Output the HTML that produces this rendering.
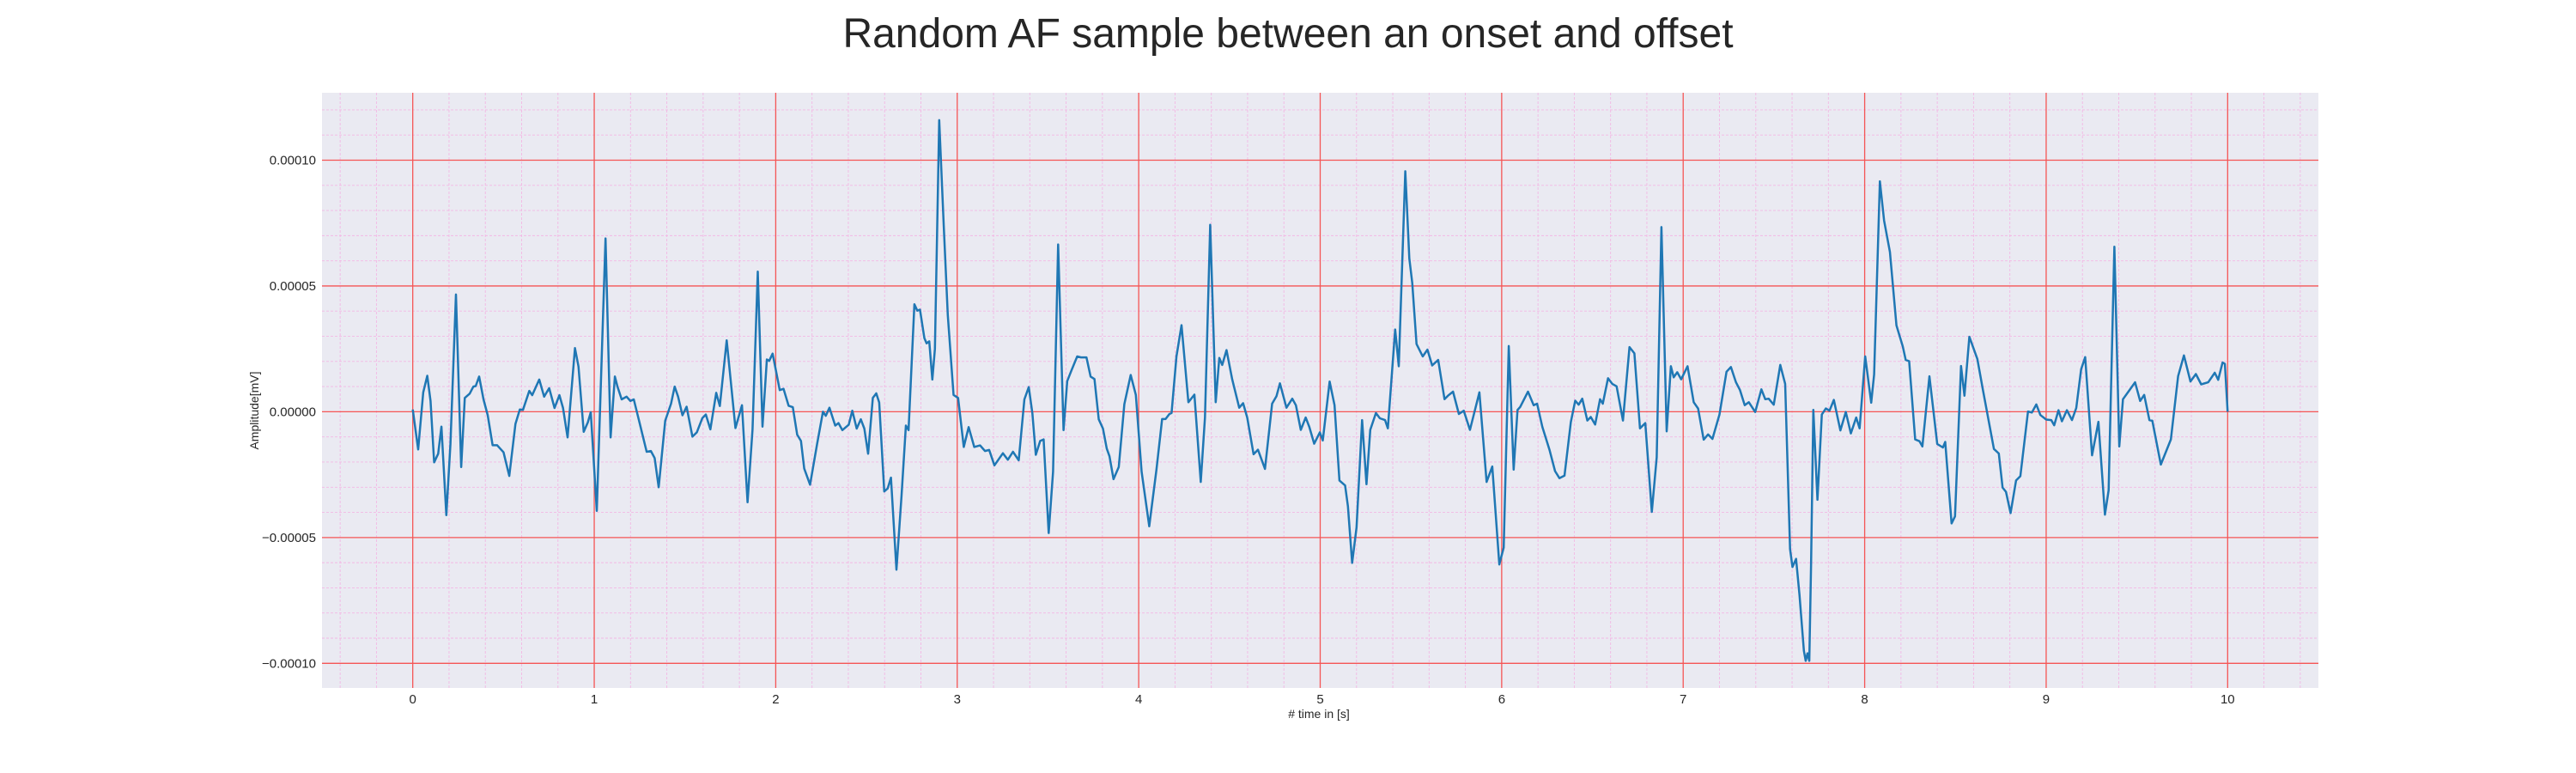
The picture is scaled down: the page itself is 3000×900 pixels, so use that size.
<!DOCTYPE html>
<html><head><meta charset="utf-8"><style>
html,body{margin:0;padding:0;background:#fff;}
svg{display:block;font-family:"Liberation Sans",sans-serif;}
</style></head><body>
<svg id="chart" width="3000" height="900" viewBox="0 0 3000 900" xmlns="http://www.w3.org/2000/svg">
<text x="1500" y="55" font-size="48" text-anchor="middle" fill="#262626">Random AF sample between an onset and offset</text>
<rect x="375" y="108" width="2325" height="693" fill="#eaeaf2"/>
<g id="grid"></g>
<g id="ticks"></g>
<path id="signal" fill="none" stroke="#1f77b4" stroke-width="2.5" stroke-linejoin="round"/>
<text x="1536" y="836" font-size="14" text-anchor="middle" fill="#262626"># time in [s]</text>
<text x="301" y="478" font-size="14" text-anchor="middle" fill="#262626" transform="rotate(-90 301 478)">Amplitude[mV]</text>
</svg>
<script>
// time (s)
const times = [0,0.030,0.058,0.080,0.098,0.118,0.140,0.158,0.185,0.208,0.238,0.267,0.287,0.314,0.334,0.347,0.366,0.390,0.413,0.440,0.465,0.500,0.532,0.566,0.590,0.607,0.642,0.658,0.697,0.724,0.752,0.781,0.808,0.828,0.853,0.894,0.913,0.942,0.965,0.981,1.014,1.062,1.090,1.114,1.128,1.151,1.178,1.199,1.218,1.249,1.289,1.312,1.333,1.355,1.391,1.423,1.443,1.462,1.486,1.509,1.541,1.565,1.596,1.615,1.640,1.672,1.692,1.730,1.778,1.814,1.845,1.872,1.901,1.927,1.951,1.964,1.983,2.022,
2.043,2.071,2.094,2.118,2.139,2.157,2.189,2.228,2.260,2.276,2.296,2.328,2.346,2.367,2.402,2.422,2.446,2.469,2.488,2.509,2.535,2.554,2.570,2.598,2.617,2.635,2.665,2.693,2.717,2.732,2.764,2.780,2.795,2.819,2.831,2.846,2.863,2.877,2.901,2.926,2.948,2.980,3.005,3.036,3.063,3.094,3.126,3.153,3.176,3.205,3.228,3.252,3.279,3.307,3.339,3.370,3.394,3.414,3.433,3.457,3.476,3.504,3.528,3.556,3.586,3.606,3.630,3.661,3.682,3.712,3.735,3.756,3.780,3.803,3.824,3.839,3.861,3.890,3.921,3.956,3.984,4.016,4.058,
4.098,4.129,4.148,4.169,4.181,4.208,4.236,4.274,4.307,4.342,4.365,4.394,4.424,4.444,4.460,4.484,4.515,4.554,4.575,4.598,4.633,4.657,4.696,4.735,4.759,4.778,4.814,4.846,4.866,4.893,4.920,4.940,4.967,4.998,5.014,5.052,5.079,5.106,5.137,5.153,5.176,5.200,5.231,5.255,5.276,5.307,5.329,5.357,5.373,5.413,5.433,5.469,5.491,5.507,5.531,5.565,5.591,5.617,5.650,5.685,5.704,5.732,5.764,5.791,5.825,5.877,5.917,5.948,5.987,6.011,6.039,
6.066,6.087,6.102,6.145,6.176,6.195,6.224,6.263,6.294,6.318,6.346,6.381,6.405,6.424,6.444,6.472,6.491,6.515,6.542,6.557,6.586,6.609,6.633,6.668,6.704,6.731,6.762,6.791,6.827,6.854,6.880,6.909,6.932,6.948,6.967,6.989,7.024,7.058,7.082,7.113,7.137,7.161,7.200,7.239,7.263,7.291,7.313,7.339,7.362,7.397,7.431,7.452,7.471,7.499,7.535,7.562,7.589,7.602,7.622,7.641,7.665,7.675,7.685,7.695,7.705,7.717,7.740,7.764,7.786,7.806,7.830,7.866,7.896,7.924,7.953,7.972,8.003,
8.036,8.052,8.084,8.107,8.139,8.175,8.210,8.226,8.245,8.278,8.302,8.318,8.357,8.400,8.431,8.444,8.479,8.498,8.531,8.550,8.577,8.621,8.652,8.712,8.739,8.760,8.779,8.804,8.834,8.858,8.900,8.921,8.946,8.968,9.000,9.028,9.044,9.068,9.087,9.114,9.142,9.166,9.193,9.215,9.253,9.288,9.324,9.344,9.376,9.403,9.423,9.458,9.490,9.518,9.540,9.569,9.585,9.632,9.687,9.727,9.759,9.795,9.825,9.854,9.893,9.929,9.948,9.972,9.985,10.0];
// amplitude in units of 1e-5 mV
const amps = [0.09,-1.50,0.77,1.43,0.43,-2.01,-1.67,-0.59,-4.11,-1.27,4.66,-2.20,0.55,0.72,1.00,1.02,1.40,0.49,-0.14,-1.33,-1.33,-1.61,-2.55,-0.48,0.09,0.07,0.83,0.66,1.28,0.60,0.94,0.15,0.66,0.15,-1.02,2.53,1.80,-0.80,-0.42,-0.02,-3.94,6.89,-1.02,1.40,1.00,0.49,0.60,0.43,0.49,-0.42,-1.59,-1.56,-1.84,-3.00,-0.36,0.32,1.00,0.60,-0.14,0.20,-0.99,-0.82,-0.25,-0.11,-0.70,0.75,0.23,2.84,-0.65,0.26,-3.60,-0.70,5.57,-0.59,2.08,2.02,2.31,0.86,
0.91,0.24,0.18,-0.91,-1.16,-2.26,-2.90,-1.28,0,-0.16,0.16,-0.55,-0.45,-0.73,-0.52,0.04,-0.67,-0.30,-0.67,-1.67,0.55,0.73,0.37,-3.17,-3.05,-2.62,-6.28,-3.35,-0.55,-0.73,4.27,4.02,4.06,2.93,2.72,2.80,1.28,2.50,11.59,7.38,3.84,0.67,0.55,-1.40,-0.61,-1.40,-1.34,-1.56,-1.52,-2.13,-1.89,-1.65,-1.91,-1.59,-1.93,0.49,0.98,-0.06,-1.71,-1.16,-1.10,-4.82,-2.38,6.65,-0.73,1.22,1.65,2.20,2.16,2.16,1.40,1.30,-0.30,-0.67,-1.46,-1.77,-2.68,-2.20,0.30,1.46,0.67,-2.38,-4.55,
-2.30,-0.29,-0.29,-0.09,-0.05,2.20,3.44,0.38,0.68,-2.79,-0.23,7.43,0.38,2.14,1.86,2.45,1.29,0.16,0.34,-0.23,-1.69,-1.51,-2.27,0.32,0.62,1.13,0.16,0.52,0.26,-0.72,-0.23,-0.60,-1.27,-0.82,-1.14,1.20,0.26,-2.73,-2.93,-3.76,-6.01,-4.61,-0.33,-2.88,-0.72,-0.05,-0.26,-0.33,-0.66,3.27,1.81,9.56,6.09,5.12,2.69,2.20,2.47,1.84,2.06,0.50,0.64,0.80,-0.09,0.04,-0.72,0.77,-2.79,-2.18,-6.07,-5.40,2.61,
-2.30,0.07,0.19,0.80,0.26,0.32,-0.60,-1.51,-2.36,-2.64,-2.54,-0.41,0.44,0.28,0.52,-0.35,-0.21,-0.51,0.50,0.32,1.33,1.11,1.01,-0.35,2.57,2.32,-0.66,-0.45,-3.98,-1.81,7.34,-0.78,1.81,1.37,1.57,1.29,1.81,0.38,0.13,-1.11,-0.90,-1.08,-0.11,1.59,1.78,1.17,0.86,0.26,0.38,-0.01,0.89,0.50,0.52,0.28,1.86,1.11,-5.46,-6.17,-5.85,-7.29,-9.5,-9.9,-9.6,-9.9,-6.0,0.07,-3.5,-0.11,0.13,0.04,0.47,-0.74,-0.01,-0.86,-0.23,-0.66,2.2,
0.36,1.48,9.16,7.60,6.35,3.43,2.59,2.06,2.01,-1.10,-1.17,-1.38,1.41,-1.28,-1.42,-1.20,-4.44,-4.16,1.82,0.64,2.98,2.10,0.85,-1.48,-1.66,-3.01,-3.19,-4.03,-2.73,-2.56,0.01,-0.03,0.29,-0.13,-0.31,-0.33,-0.54,0.06,-0.38,0.06,-0.33,0.15,1.69,2.17,-1.73,-0.40,-4.09,-3.12,6.56,-1.38,0.50,0.85,1.17,0.43,0.67,-0.33,-0.36,-2.10,-1.10,1.41,2.24,1.20,1.50,1.09,1.17,1.55,1.27,1.96,1.9,0];
const xTickLabels = ["0","1","2","3","4","5","6","7","8","9","10"];
const yTickValues = [-10,-5,0,5,10];
const yTickLabels = ["\u22120.00010","\u22120.00005","0.00000","0.00005","0.00010"];

const X0=375, X1=2700, Y0=108, Y1=801;
const xmin=-0.5, xmax=10.5, ymin=-10.98, ymax=12.68;
function xs(t){return X0+(t-xmin)/(xmax-xmin)*(X1-X0);}
function ys(v){return Y1-(v-ymin)/(ymax-ymin)*(Y1-Y0);}
const NS="http://www.w3.org/2000/svg";
const grid=document.getElementById('grid'), ticks=document.getElementById('ticks');
function line(g,x1,y1,x2,y2,stroke,w,dash,name){
  const l=document.createElementNS(NS,'line');
  l.setAttribute('x1',x1);l.setAttribute('y1',y1);l.setAttribute('x2',x2);l.setAttribute('y2',y2);
  l.setAttribute('stroke',stroke);l.setAttribute('stroke-width',w);
  if(dash)l.setAttribute('stroke-dasharray',dash);
  
  
  g.appendChild(l);
}
// minor grid
for(let i=-2;i<=52;i++){const t=i*0.2; if(t<xmin||t>xmax) continue; if(i%5===0) continue;
  line(grid,xs(t),Y0,xs(t),Y1,'#f3b8e4',0.9,'3,2','minor-grid-x');}
for(let v=-10;v<=12;v++){ if(v%5===0) continue;
  line(grid,X0,ys(v),X1,ys(v),'#f3b8e4',0.9,'3,2','minor-grid-y');}
// major grid
xTickLabels.forEach((lab,i)=>{const x=xs(i);
  line(grid,x,Y0,x,Y1,'#f55555',1.3,null,'major-grid-x');
  const tx=document.createElementNS(NS,'text');
  tx.setAttribute('x',x);tx.setAttribute('y',819);tx.setAttribute('font-size','15');
  tx.setAttribute('text-anchor','middle');tx.setAttribute('fill','#262626');
  tx.textContent=lab;
  
  
  ticks.appendChild(tx);
});
yTickValues.forEach((v,i)=>{const y=ys(v);
  line(grid,X0,y,X1,y,'#f55555',1.3,null,'major-grid-y');
  const tx=document.createElementNS(NS,'text');
  tx.setAttribute('x',368);tx.setAttribute('y',y+5);tx.setAttribute('font-size','15');
  tx.setAttribute('text-anchor','end');tx.setAttribute('fill','#262626');
  tx.textContent=yTickLabels[i];
  
  
  ticks.appendChild(tx);
});
let d='';
for(let i=0;i<times.length;i++){d+=(i?'L':'M')+xs(times[i]).toFixed(1)+','+ys(amps[i]).toFixed(1);}
document.getElementById('signal').setAttribute('d',d);
</script>
</body></html>
